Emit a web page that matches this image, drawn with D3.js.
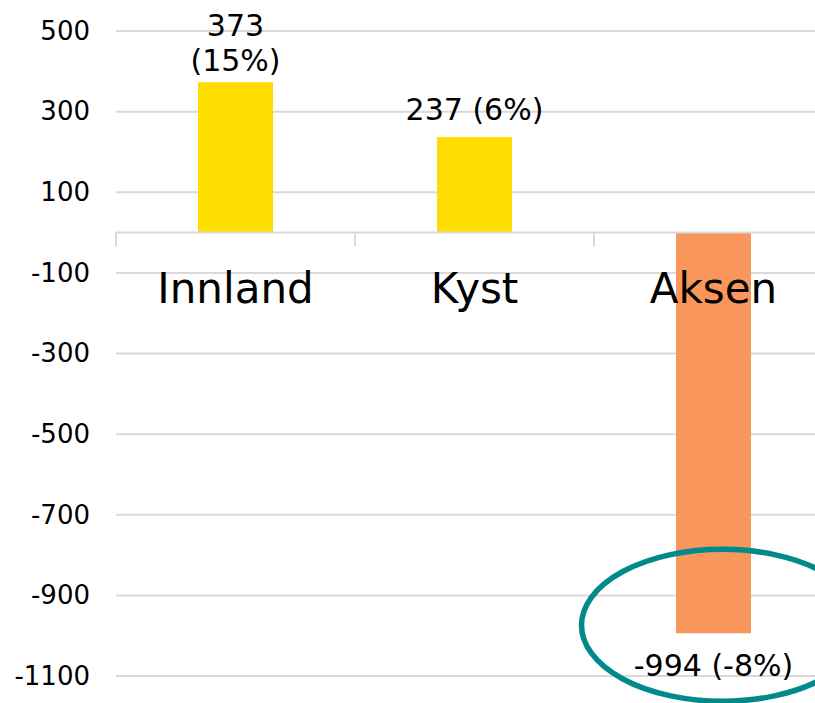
<!DOCTYPE html>
<html>
<head>
<meta charset="utf-8">
<script src="https://cdn.jsdelivr.net/npm/d3@7"></script>
<style>
  html, body { margin: 0; padding: 0; background: #fff; }
  svg { display: block; }
  text { font-family: "DejaVu Sans", Verdana, sans-serif; fill: #000; }
</style>
</head>
<body>
<svg id="chart" width="815" height="703"></svg>
<script>
// Change in number of inhabitants per region, with share in percent
const categories = ["Innland", "Kyst", "Aksen"];
const values = [373, 237, -994];
const shares = [15, 6, -8];
const wrapLabel = [true, false, false];
const yTicks = [500, 300, 100, -100, -300, -500, -700, -900, -1100];
const barColors = ["#FFDD00", "#FFDD00", "#F9965B"];

const svg = d3.select("#chart");
const plot = { left: 116, right: 833, top: 31, bottom: 676 };

const x = d3.scaleBand()
  .domain(categories)
  .range([plot.left, plot.right])
  .paddingInner(0)
  .paddingOuter(0);

const y = d3.scaleLinear()
  .domain([-1100, 500])
  .range([plot.bottom, plot.top]);

// plain hyphen-minus, no thousands separator
const num = d => String(d);

// horizontal gridlines
svg.append("g")
  .selectAll("line")
  .data(yTicks)
  .join("line")
  .attr("x1", plot.left)
  .attr("x2", plot.right)
  .attr("y1", d => y(d))
  .attr("y2", d => y(d))
  .attr("stroke", "#d9d9d9")
  .attr("stroke-width", 2);

// value axis labels
const yAxis = d3.axisLeft(y).tickValues(yTicks).tickFormat(num).tickSize(0).tickPadding(0);
const yg = svg.append("g")
  .attr("transform", `translate(90,0)`)
  .call(yAxis);
yg.select(".domain").remove();
yg.selectAll("text")
  .attr("font-size", 26)
  .attr("font-family", "DejaVu Sans, Verdana, sans-serif")
  .attr("fill", "#000");

// bars
const barW = 75;
svg.append("g")
  .selectAll("rect")
  .data(values)
  .join("rect")
  .attr("x", (d, i) => x(categories[i]) + x.bandwidth() / 2 - barW / 2)
  .attr("width", barW)
  .attr("y", d => Math.min(y(d), y(0)))
  .attr("height", d => Math.abs(y(d) - y(0)))
  .attr("fill", (d, i) => barColors[i]);

// category axis at zero with tick marks between categories
const xg = svg.append("g")
  .attr("transform", `translate(0,${y(0)})`);
xg.append("line")
  .attr("x1", plot.left).attr("x2", plot.right)
  .attr("y1", 0).attr("y2", 0)
  .attr("stroke", "#d9d9d9").attr("stroke-width", 2);
xg.selectAll(".sep")
  .data(d3.range(categories.length + 1))
  .join("line")
  .attr("class", "sep")
  .attr("x1", i => plot.left + i * x.bandwidth())
  .attr("x2", i => plot.left + i * x.bandwidth())
  .attr("y1", 0).attr("y2", 14)
  .attr("stroke", "#d9d9d9").attr("stroke-width", 2);

// category names
svg.append("g")
  .selectAll("text")
  .data(categories)
  .join("text")
  .attr("x", d => x(d) + x.bandwidth() / 2)
  .attr("y", 303)
  .attr("text-anchor", "middle")
  .attr("font-size", 42)
  .text(d => d);

// value labels
const lbl = svg.append("g");
values.forEach((v, i) => {
  const cx = x(categories[i]) + x.bandwidth() / 2;
  const first = num(v);
  const second = `(${num(shares[i])}%)`;
  const lines = wrapLabel[i] ? [first, second] : [`${first} ${second}`];
  const lh = 35;
  const t = lbl.append("text")
    .attr("text-anchor", "middle")
    .attr("font-size", 30);
  let baseY;
  if (v >= 0) {
    const gap = lines.length > 1 ? 11 : 17;
    baseY = y(v) - gap - (lines.length - 1) * lh;
  } else {
    baseY = y(v) + 43;
  }
  lines.forEach((s, k) => {
    t.append("tspan").attr("x", cx).attr("y", baseY + k * lh).text(s);
  });
});

// highlight ring around the negative value
const neg = values.findIndex(v => v < 0);
svg.append("ellipse")
  .attr("cx", x(categories[neg]) + x.bandwidth() / 2 + 9)
  .attr("cy", y(values[neg]) - 8)
  .attr("rx", 141)
  .attr("ry", 76)
  .attr("fill", "none")
  .attr("stroke", "#008A8C")
  .attr("stroke-width", 5.5);
</script>
</body>
</html>
